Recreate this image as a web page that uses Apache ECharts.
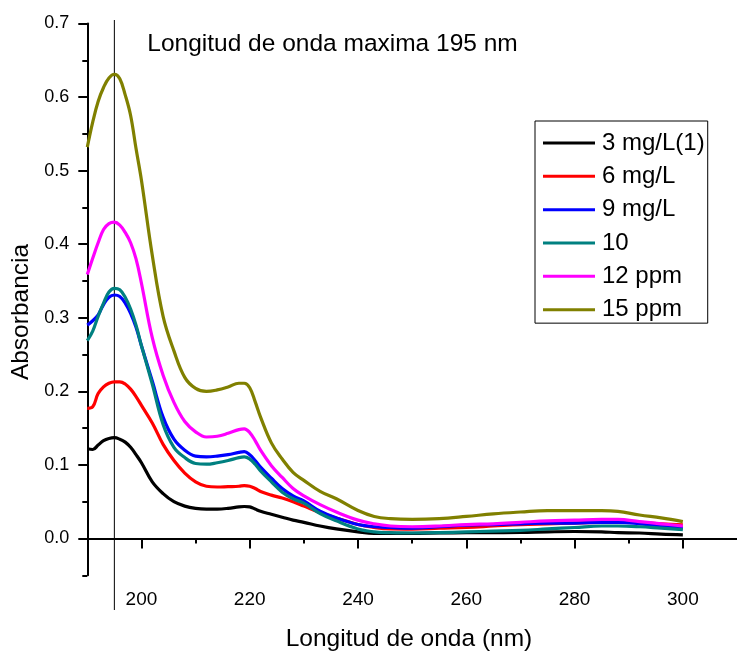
<!DOCTYPE html>
<html>
<head>
<meta charset="utf-8">
<script src="https://cdn.jsdelivr.net/npm/echarts@6/dist/echarts.min.js"></script>
<style>html,body{margin:0;padding:0;background:#fff}#c{width:737px;height:658px}</style>
</head>
<body>
<div id="c"></div>
<script>
const wavelengths = [190,191,192,193,194,195,196,197,198,199,200,202,204,206,208,210,212,214,216,218,219,220,221,222,224,226,228,230,233,236,240,243,246,250,255,260,265,270,275,280,285,288,292,296,300];
const seriesNames = ['3 mg/L(1)','6 mg/L','9 mg/L','10','12 ppm','15 ppm'];
const s3mg = [0.122,0.121,0.127,0.133,0.136,0.137,0.135,0.131,0.124,0.114,0.103,0.077,0.061,0.050,0.044,0.041,0.040,0.040,0.041,0.043,0.0435,0.043,0.040,0.037,0.033,0.029,0.025,0.022,0.017,0.013,0.009,0.007,0.007,0.007,0.0075,0.0078,0.008,0.0082,0.009,0.0095,0.009,0.008,0.0075,0.006,0.005];
const s6mg = [0.177,0.179,0.197,0.206,0.211,0.213,0.213,0.210,0.203,0.193,0.181,0.157,0.128,0.106,0.089,0.077,0.071,0.070,0.0705,0.071,0.072,0.071,0.068,0.064,0.059,0.055,0.050,0.044,0.035,0.028,0.019,0.015,0.013,0.0128,0.014,0.015,0.017,0.019,0.020,0.021,0.022,0.023,0.022,0.020,0.0186];
const s9mg = [0.290,0.296,0.304,0.318,0.328,0.331,0.329,0.320,0.306,0.287,0.262,0.214,0.165,0.135,0.120,0.112,0.111,0.112,0.114,0.117,0.118,0.114,0.106,0.097,0.082,0.068,0.058,0.051,0.037,0.028,0.019,0.016,0.015,0.014,0.016,0.018,0.019,0.020,0.021,0.021,0.022,0.022,0.020,0.017,0.014];
const s10 = [0.269,0.282,0.302,0.320,0.335,0.340,0.338,0.328,0.312,0.290,0.262,0.210,0.155,0.124,0.110,0.102,0.101,0.103,0.106,0.110,0.111,0.108,0.101,0.092,0.077,0.063,0.054,0.048,0.034,0.024,0.013,0.009,0.008,0.0075,0.008,0.009,0.010,0.011,0.013,0.015,0.017,0.017,0.016,0.014,0.012];
const s12ppm = [0.359,0.381,0.402,0.420,0.428,0.430,0.426,0.416,0.402,0.380,0.347,0.273,0.222,0.185,0.159,0.145,0.138,0.139,0.143,0.148,0.149,0.144,0.133,0.120,0.099,0.083,0.068,0.058,0.046,0.036,0.025,0.020,0.017,0.016,0.017,0.019,0.020,0.022,0.024,0.025,0.026,0.026,0.023,0.020,0.017];
const s15ppm = [0.532,0.566,0.594,0.613,0.626,0.631,0.625,0.603,0.575,0.530,0.487,0.385,0.302,0.255,0.219,0.204,0.200,0.202,0.206,0.211,0.211,0.205,0.186,0.165,0.130,0.108,0.090,0.079,0.064,0.054,0.038,0.030,0.027,0.026,0.027,0.030,0.0335,0.036,0.038,0.038,0.038,0.037,0.032,0.028,0.023];
const seriesValues = [s3mg, s6mg, s9mg, s10, s12ppm, s15ppm];
const seriesColors = ['#000000','#ff0000','#0000ff','#008080','#ff00ff','#808000'];
const xMajorTicks = [200,220,240,260,280,300];
const xMinorTicks = [190,210,230,250,270,290];
const yMajorTicks = [0,0.1,0.2,0.3,0.4,0.5,0.6,0.7];
const yMinorTicks = [-0.05,0.05,0.15,0.25,0.35,0.45,0.55,0.65];
const markerWavelength = 195;
const chartTitle = 'Longitud de onda maxima 195 nm';
const xTitle = 'Longitud de onda (nm)';
const yTitle = 'Absorbancia';

const FONT = "'Liberation Sans', Arial, sans-serif";
const chart = echarts.init(document.getElementById('c'), null, {renderer:'canvas'});

const GL = 87.3, GT = 23.5, GW = 655.2, GH = 551.8;

const series = seriesNames.map((n,i)=>({
  name:n, type:'line', xAxisIndex:0, yAxisIndex:0,
  data: wavelengths.map((w,j)=>[w, seriesValues[i][j]]),
  smooth:0.4, symbol:'none', lineStyle:{color:seriesColors[i], width:3.2},
  itemStyle:{color:seriesColors[i]}, z:3
}));
series.push({
  name:'marker', type:'line', xAxisIndex:2, yAxisIndex:2,
  data:[[markerWavelength,0],[markerWavelength,1]], symbol:'none', silent:true,
  lineStyle:{color:'#000', width:1}, z:1
});

chart.setOption({
  animation:false,
  backgroundColor:'#fff',
  textStyle:{fontFamily:FONT},
  grid:[
    {left:GL, top:GT, width:GW, height:GH},
    {left:GL, top:20, width:GW, height:590}
  ],
  xAxis:[
    {type:'value', gridIndex:0, min:190, max:310, position:'bottom',
     axisLine:{lineStyle:{color:'#000', width:2}},
     axisTick:{show:true, customValues:xMajorTicks, length:10, lineStyle:{color:'#000', width:2}},
     axisLabel:{customValues:xMajorTicks, color:'#000', fontSize:19, margin:15, fontFamily:FONT},
     splitLine:{show:false}},
    {type:'value', gridIndex:0, min:190, max:310, position:'bottom',
     axisLine:{show:false},
     axisTick:{show:true, customValues:xMinorTicks, length:5, lineStyle:{color:'#000', width:2}},
     axisLabel:{show:false}, splitLine:{show:false}},
    {type:'value', gridIndex:1, min:190, max:310, show:false}
  ],
  yAxis:[
    {type:'value', gridIndex:0, min:-0.05, max:0.7, position:'left',
     axisLine:{show:true, lineStyle:{color:'#000', width:2}},
     axisTick:{show:true, customValues:yMajorTicks, length:9, lineStyle:{color:'#000', width:2}},
     axisLabel:{customValues:yMajorTicks, color:'#000', fontSize:18, margin:18, fontFamily:FONT,
       formatter:v=>v.toFixed(1)},
     splitLine:{show:false}},
    {type:'value', gridIndex:0, min:-0.05, max:0.7, position:'left',
     axisLine:{show:false},
     axisTick:{show:true, customValues:yMinorTicks, length:5, lineStyle:{color:'#000', width:2}},
     axisLabel:{show:false}, splitLine:{show:false}},
    {type:'value', gridIndex:1, min:0, max:1, show:false}
  ],
  legend:{
    data:seriesNames, orient:'vertical', left:535, top:121,
    padding:[10,3,1.5,8], itemGap:9.33, itemWidth:52, itemHeight:3, icon:'rect',
    borderColor:'#000', borderWidth:1, backgroundColor:'#fff',
    textStyle:{fontSize:24, lineHeight:24, color:'#000', fontFamily:FONT, padding:[0,0,0,2]},
    selectedMode:false
  },
  graphic:[
    {type:'text', x:147.3, y:44, style:{text:chartTitle, font:'24.5px '+FONT, fill:'#000', textAlign:'left', textVerticalAlign:'middle'}},
    {type:'text', x:409, y:639, style:{text:xTitle, font:'24.5px '+FONT, fill:'#000', textAlign:'center', textVerticalAlign:'middle'}},
    {type:'text', x:21, y:312, rotation:Math.PI/2, style:{text:yTitle, font:'24.5px '+FONT, fill:'#000', textAlign:'center', textVerticalAlign:'middle'}}
  ],
  series:series
});
</script>
</body>
</html>
